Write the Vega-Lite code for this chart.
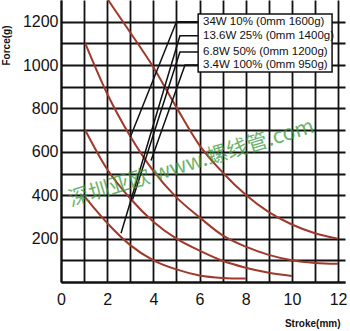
{
  "$schema": "https://vega.github.io/schema/vega-lite/v6.json",
  "width": 284,
  "height": 282,
  "autosize": {"type": "none"},
  "padding": {"left": 61, "top": 0, "right": 5, "bottom": 49},
  "background": "white",
  "config": {
    "view": {"stroke": null},
    "axis": {
      "gridColor": "#111111",
      "gridWidth": 1.8,
      "gridOpacity": 1,
      "domainColor": "#111111",
      "domainWidth": 2,
      "ticks": false,
      "labelFont": "Liberation Sans",
      "labelFontSize": 16,
      "labelColor": "#111111",
      "titleFont": "Liberation Sans",
      "titleFontSize": 10,
      "titleFontWeight": "bold",
      "titleColor": "#111111"
    }
  },
  "encoding": {
    "x": {
      "field": "x", "type": "quantitative",
      "scale": {"domain": [0, 12.3], "nice": false, "zero": false},
      "axis": {
        "values": [0,1,2,3,4,5,6,7,8,9,10,11,12],
        "labelExpr": "datum.value % 2 == 0 ? datum.label : ''",
        "labelPadding": 9,
        "labelFlush": false,
        "title": "Stroke(mm)",
        "titleX": 279, "titleY": 41, "titleAlign": "right", "titleBaseline": "middle", "titleAnchor": null
      }
    },
    "y": {
      "field": "y", "type": "quantitative",
      "scale": {"domain": [0, 1300], "nice": false},
      "axis": {
        "values": [0,100,200,300,400,500,600,700,800,900,1000,1100,1200],
        "format": "d",
        "labelExpr": "datum.value % 200 == 0 && datum.value > 0 ? datum.label : ''",
        "labelPadding": 3,
        "labelFlush": false,
        "title": "Force(g)",
        "titleAngle": 270,
        "titleX": -55, "titleY": 45, "titleAlign": "center", "titleBaseline": "middle"
      }
    }
  },
  "layer": [
    {
      "data": {"values": [
        {"s":"A","x":2.04,"y":1300},{"s":"A","x":3,"y":1150},{"s":"A","x":4,"y":990},{"s":"A","x":5,"y":805},{"s":"A","x":6,"y":630},{"s":"A","x":7,"y":505},{"s":"A","x":8,"y":402},{"s":"A","x":9,"y":322},{"s":"A","x":10,"y":265},{"s":"A","x":11,"y":225},{"s":"A","x":12,"y":200},
        {"s":"B","x":1.05,"y":1100},{"s":"B","x":2,"y":868},{"s":"B","x":3,"y":672},{"s":"B","x":4,"y":512},{"s":"B","x":5,"y":390},{"s":"B","x":6,"y":298},{"s":"B","x":7,"y":215},{"s":"B","x":8,"y":163},{"s":"B","x":9,"y":125},{"s":"B","x":10,"y":100},{"s":"B","x":11,"y":88},{"s":"B","x":12,"y":84},
        {"s":"C","x":1.05,"y":700},{"s":"C","x":2,"y":520},{"s":"C","x":3,"y":385},{"s":"C","x":4,"y":278},{"s":"C","x":5,"y":200},{"s":"C","x":6,"y":145},{"s":"C","x":7,"y":98},{"s":"C","x":8,"y":66},{"s":"C","x":9,"y":43},{"s":"C","x":10,"y":28},
        {"s":"D","x":1.05,"y":390},{"s":"D","x":2,"y":272},{"s":"D","x":3,"y":170},{"s":"D","x":4,"y":100},{"s":"D","x":5,"y":58},{"s":"D","x":6,"y":30},{"s":"D","x":7,"y":19},{"s":"D","x":8,"y":16}
      ]},
      "mark": {"type": "line", "interpolate": "monotone", "color": "#a0392b", "strokeWidth": 2},
      "encoding": {"detail": {"field": "s"}}
    },
    {
      "data": {"values": [
        {"l":"L1","o":1,"x":3.0,"y":667},{"l":"L1","o":2,"x":5.0,"y":1200},{"l":"L1","o":3,"x":5.94,"y":1200},
        {"l":"L2","o":1,"x":2.6,"y":225},{"l":"L2","o":2,"x":5.15,"y":1135},{"l":"L2","o":3,"x":5.94,"y":1135},
        {"l":"L3","o":1,"x":3.1,"y":380},{"l":"L3","o":2,"x":5.15,"y":1060},{"l":"L3","o":3,"x":5.94,"y":1060},
        {"l":"L4","o":1,"x":3.9,"y":560},{"l":"L4","o":2,"x":5.37,"y":1000},{"l":"L4","o":3,"x":5.94,"y":1000}
      ]},
      "mark": {"type": "line", "color": "#111111", "strokeWidth": 1.5},
      "encoding": {"detail": {"field": "l"}, "order": {"field": "o"}}
    },
    {
      "data": {"values": [{"x": 5.94, "y": 1236, "x2": 11.74, "y2": 968}]},
      "mark": {"type": "rect", "fill": "white", "stroke": "#111111", "strokeWidth": 1.5},
      "encoding": {"x2": {"field": "x2"}, "y2": {"field": "y2"}}
    },
    {
      "data": {"values": [
        {"x": 6.15, "y": 1199, "t": "34W 10% (0mm 1600g)"},
        {"x": 6.15, "y": 1134, "t": "13.6W 25% (0mm 1400g)"},
        {"x": 6.15, "y": 1062, "t": "6.8W 50% (0mm 1200g)"},
        {"x": 6.15, "y": 1000, "t": "3.4W 100% (0mm 950g)"}
      ]},
      "mark": {"type": "text", "align": "left", "baseline": "middle", "font": "Liberation Sans", "fontSize": 11.5, "color": "#111111"},
      "encoding": {"text": {"field": "t"}}
    },
    {
      "data": {"values": [{"x": 5.65, "y": 545, "t": "深圳亚欧 www.螺线管.com"}]},
      "mark": {"type": "text", "align": "center", "baseline": "middle", "font": "Noto Sans CJK SC", "fontSize": 21, "angle": 343, "color": "#3a9a3a", "opacity": 0.75},
      "encoding": {"text": {"field": "t"}}
    }
  ]
}
